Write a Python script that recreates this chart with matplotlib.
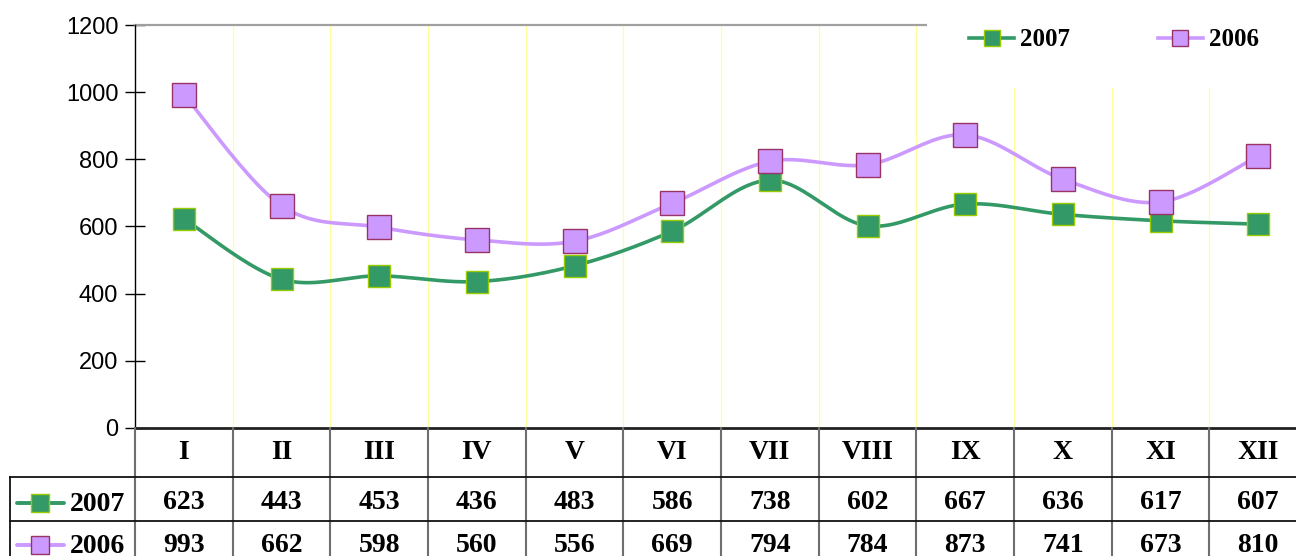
import numpy as np
import matplotlib
matplotlib.use("Agg")
import matplotlib.pyplot as plt
from matplotlib.lines import Line2D
from matplotlib.patches import Rectangle

# ---- data ----
months = ["I", "II", "III", "IV", "V", "VI", "VII", "VIII", "IX", "X", "XI", "XII"]
values_2007 = [623, 443, 453, 436, 483, 586, 738, 602, 667, 636, 617, 607]
values_2006 = [993, 662, 598, 560, 556, 669, 794, 784, 873, 741, 673, 810]
series_labels = ["2007", "2006"]
yticks = [0, 200, 400, 600, 800, 1000, 1200]

W, H = 1296, 556
fig = plt.figure(figsize=(W / 100, H / 100), dpi=100)
fig.patch.set_facecolor("white")

GREEN, GREEN_EDGE = "#339966", "#99CC00"
PURPLE, PURPLE_EDGE = "#CC99FF", "#993366"
SERIF = ["Liberation Serif", "DejaVu Serif"]
SANS = ["Liberation Sans", "DejaVu Sans"]

x_left_px, x_right_px = 135, 1307
y_top_px, y_zero_px = 25, 428
colw = (x_right_px - x_left_px) / 12.0

ax = fig.add_axes([x_left_px / W, (H - y_zero_px) / H,
                   (x_right_px - x_left_px) / W, (y_zero_px - y_top_px) / H])
ax.set_xlim(-0.5, 11.5)
ax.set_ylim(0, 1200)
ax.set_facecolor("none")
for s in ["top", "right"]:
    ax.spines[s].set_visible(False)
ax.spines["left"].set_linewidth(1.0)
ax.spines["bottom"].set_linewidth(2.0)
ax.spines["bottom"].set_color("#222222")
ax.set_xticks([])
ax.set_yticks(yticks)
ax.set_yticklabels([str(v) for v in yticks], family=SANS, fontsize=17)
ax.tick_params(axis="y", direction="inout", length=14, width=1, pad=5)

# vertical yellow gridlines between categories
ax.vlines(np.arange(0.5, 11.0, 1.0), 0, 1200, color="#FFFF99", lw=0.9, zorder=1)
# top border (partial)
ax.plot([-0.5, -0.5 + (927 - x_left_px) / colw], [1200, 1200], color="#A0A0A0",
        lw=1.6, clip_on=False, zorder=2)


def smooth(xs, ys, n=24):
    P = np.column_stack([xs, ys]).astype(float)
    ext = np.vstack([P[0], P, P[-1]])
    out = []
    t = np.linspace(0, 1, n)[:, None]
    for i in range(len(P) - 1):
        p0, p1, p2, p3 = ext[i], ext[i + 1], ext[i + 2], ext[i + 3]
        c1 = p1 + (p2 - p0) / 6.0
        c2 = p2 - (p3 - p1) / 6.0
        seg = (1 - t) ** 3 * p1 + 3 * (1 - t) ** 2 * t * c1 + 3 * (1 - t) * t ** 2 * c2 + t ** 3 * p2
        out.append(seg if i == 0 else seg[1:])
    return np.vstack(out)


xs = np.arange(len(months))
c07 = smooth(xs, values_2007)
c06 = smooth(xs, values_2006)
ax.plot(c07[:, 0], c07[:, 1], color=GREEN, lw=2.6, zorder=3, solid_capstyle="round")
ax.plot(xs, values_2007, ls="none", marker="s", ms=15.5, mfc=GREEN, mec=GREEN_EDGE,
        mew=1.0, zorder=4)
ax.plot(c06[:, 0], c06[:, 1], color=PURPLE, lw=2.6, zorder=5, solid_capstyle="round")
ax.plot(xs, values_2006, ls="none", marker="s", ms=17.5, mfc=PURPLE, mec=PURPLE_EDGE,
        mew=1.0, zorder=6)

# white area behind legend
fig.patches.append(Rectangle((927 / W, (H - 88) / H), (W - 927) / W, 88 / H,
                             transform=fig.transFigure, facecolor="white",
                             edgecolor="none", zorder=1))

h07 = Line2D([], [], color=GREEN, lw=2.6, marker="s", ms=11.5, mfc=GREEN, mec=GREEN_EDGE, mew=1.0)
h06 = Line2D([], [], color=PURPLE, lw=2.6, marker="s", ms=11.5, mfc=PURPLE, mec=PURPLE_EDGE, mew=1.0)
leg = fig.legend([h07, h06], series_labels, ncol=2, loc="center left",
                 bbox_to_anchor=(969 / W, 1 - 40 / H), frameon=False, borderpad=0,
                 borderaxespad=0, handlelength=1.8, handletextpad=0.25, columnspacing=3.5,
                 prop=dict(family=SERIF, weight="bold", size=18))
leg.set_zorder(5)

# ---- data table below ----
tab_bottom_px = 566
tax = fig.add_axes([x_left_px / W, (H - tab_bottom_px) / H,
                    (x_right_px - x_left_px) / W, (tab_bottom_px - y_zero_px) / H])
tax.set_xlim(-0.5, 11.5)
tax.set_ylim(tab_bottom_px, y_zero_px)
tax.axis("off")


def px2x(px):
    return -0.5 + (px - x_left_px) / colw


xl = px2x(10)
row1, row2 = 477, 521
for k in range(13):
    tax.plot([k - 0.5, k - 0.5], [y_zero_px, tab_bottom_px], color="#6E6E6E", lw=1.5,
             clip_on=False)
for yy in (row1, row2):
    tax.plot([xl, 11.5], [yy, yy], color="#111111", lw=1.3, clip_on=False)
tax.plot([xl, xl], [row1, tab_bottom_px], color="#111111", lw=1.3, clip_on=False)

tfont = dict(family=SERIF, weight="bold", size=20, ha="center", va="center")
for i, m in enumerate(months):
    tax.text(i, 453, m, **tfont)
    tax.text(i, 503, str(values_2007[i]), **tfont)
    tax.text(i, 546, str(values_2006[i]), **tfont)

for yy, col, edge, lab in [(503, GREEN, GREEN_EDGE, series_labels[0]),
                           (545, PURPLE, PURPLE_EDGE, series_labels[1])]:
    tax.plot([px2x(17), px2x(64)], [yy, yy], color=col, lw=2.8, clip_on=False,
             solid_capstyle="round")
    tax.plot([px2x(40)], [yy], marker="s", ms=12.5, mfc=col, mec=edge, mew=1.0,
             ls="none", clip_on=False)
    tax.text(px2x(70), yy + 2, lab, family=SERIF, weight="bold", size=20,
             ha="left", va="center")

fig.savefig("out.png", dpi=100, facecolor="white")
